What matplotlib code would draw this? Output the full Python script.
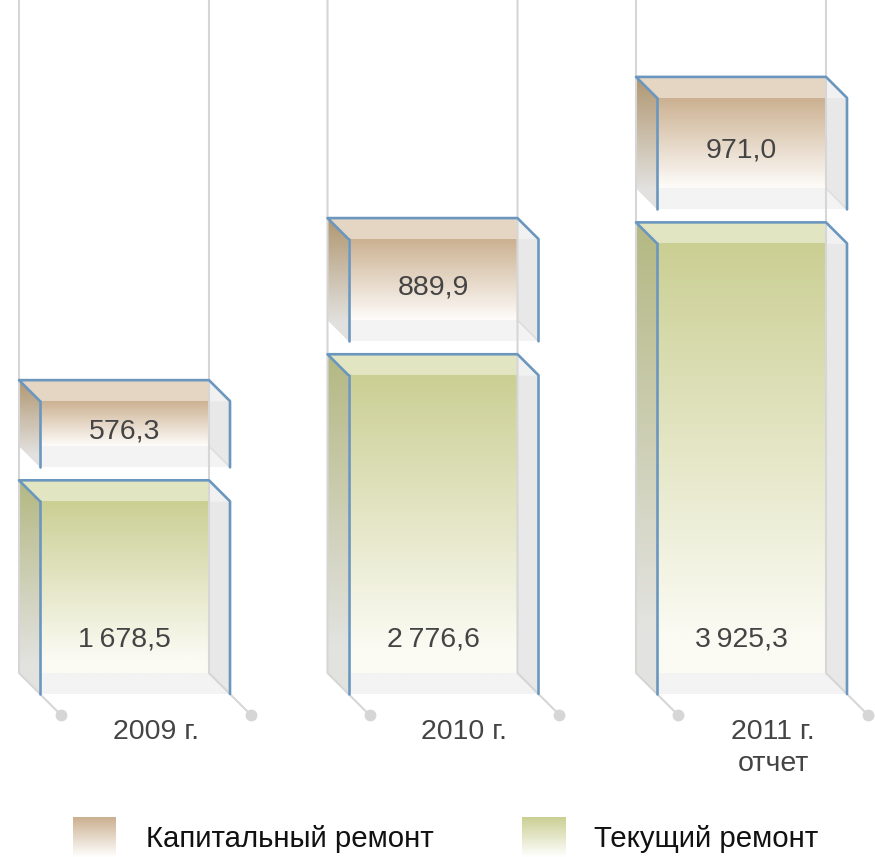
import numpy as np
import matplotlib
matplotlib.use('Agg')
import matplotlib.pyplot as plt
from matplotlib.patches import Polygon
from matplotlib.colors import to_rgba

# ---- data ----
years = ['2009 г.', '2010 г.', '2011 г.\nотчет']
capital = [576.3, 889.9, 971.0]          # Капитальный ремонт
current = [1678.5, 2776.6, 3925.3]       # Текущий ремонт
capital_labels = ['576,3', '889,9', '971,0']
current_labels = ['1\u2009678,5', '2\u2009776,6', '3\u2009925,3']
legend_labels = ['Капитальный ремонт', 'Текущий ремонт']

plt.rcParams['font.family'] = ['Liberation Sans', 'DejaVu Sans']

W, H = 875, 857
fig = plt.figure(figsize=(W / 100, H / 100), dpi=100)
ax = fig.add_axes([0, 0, 1, 1])
ax.set_axis_off()

PX_PER_UNIT = 0.1148
BASE_PX = 673
STEP_PX = 308.5
X0_PX = 114
ax.set_xlim(-X0_PX / STEP_PX, (W - X0_PX) / STEP_PX)
ax.set_ylim(-(H - BASE_PX) / PX_PER_UNIT, BASE_PX / PX_PER_UNIT)
ax.set_autoscale_on(False)
YTOP = BASE_PX / PX_PER_UNIT


def pxx(p):
    return p / STEP_PX


def pxy(p):
    return p / PX_PER_UNIT


w = pxx(190)
dx = pxx(21)
dy = pxy(21)
gap = pxy(34)

BLUE = '#6b97bf'
GREY_LINE = '#d6d6d6'

schemes = {
    'cap': dict(front_top='#cbb090', front_bot='#fefcfa', side_top='#b0966f', side_bot='#e2e1df',
                topface='#e4d6c3'),
    'cur': dict(front_top='#cbcf93', front_bot='#fbfbf4', side_top='#b4b882', side_bot='#e2e2df',
                topface='#e2e5c2'),
}


def grad_fill(a, poly, xl, xr, yb, yt, c_top, c_bot, z, reach=1.0, alpha=1.0):
    patch = Polygon(poly, closed=True, facecolor='none', edgecolor='none')
    a.add_patch(patch)
    n = 256
    t = np.clip(np.linspace(0, 1, n) / reach, 0, 1)[:, None]
    ct = np.array(to_rgba(c_top))
    cb = np.array(to_rgba(c_bot))
    arr = ct * (1 - t) + cb * t
    im = a.imshow(arr[:, None, :], extent=[xl, xr, yb, yt], origin='upper',
                  aspect='auto', zorder=z, interpolation='bilinear', alpha=alpha)
    im.set_clip_path(patch)


def poly(a, pts, color, z):
    a.add_patch(Polygon(pts, closed=True, facecolor=color, edgecolor='none', zorder=z))


def draw_segment(i, bottom, top, sc, label, label_y, reach):
    s = schemes[sc]
    x0, x1 = i - w / 2, i + w / 2
    # front face gradient
    fr = [(x0 + dx, top - dy), (x1, top - dy), (x1, bottom), (x0 + dx, bottom)]
    grad_fill(ax, fr, x0 + dx, x1, bottom, top - dy, s['front_top'], s['front_bot'], 2, reach=reach)
    # bottom face band
    poly(ax, [(x0 + dx, bottom), (x1 + dx, bottom), (x1 + dx, bottom - dy), (x0 + dx, bottom - dy)],
         '#f3f3f3', 2)
    # right face
    poly(ax, [(x1, top - dy), (x1 + dx, top - dy), (x1 + dx, bottom - dy), (x1, bottom)], '#e8e8e8', 2)
    poly(ax, [(x1, top), (x1 + dx, top - dy), (x1, top - dy)], '#f1f1f1', 2)
    ax.plot([x1, x1 + dx], [bottom, bottom - dy], color='#dcdcdc', lw=1.0, zorder=3)
    # left face gradient
    lf = [(x0, top), (x0 + dx, top - dy), (x0 + dx, bottom - dy), (x0, bottom)]
    grad_fill(ax, lf, x0, x0 + dx, bottom - dy, top, s['side_top'], s['side_bot'], 2, reach=0.85)
    # top face
    poly(ax, [(x0, top), (x1, top), (x1, top - dy), (x0 + dx, top - dy)], s['topface'], 2)
    # blue edges
    ekw = dict(color=BLUE, lw=1.9, zorder=6, solid_capstyle='round', solid_joinstyle='round')
    ax.plot([x0 + dx, x0, x1, x1 + dx, x1 + dx], [top - dy, top, top, top - dy, bottom - dy], **ekw)
    ax.plot([x0 + dx, x0 + dx], [top - dy, bottom - dy], **ekw)
    ax.text(i + dx / 2, label_y, label, ha='center', va='center', fontsize=20.5,
            color='#444444', zorder=8)


for i in range(len(years)):
    # hanging guide lines and dots
    for xe in (i - w / 2, i + w / 2):
        ax.plot([xe, xe, xe + 2 * dx], [YTOP, 0, -2 * dy], color=GREY_LINE, lw=1.5, zorder=4)
        ax.plot([xe + 2 * dx], [-2 * dy], 'o', ms=7.5, color='#d6d6d6', zorder=4)
    g_top = current[i]
    draw_segment(i, 0, g_top, 'cur', current_labels[i], pxy(33), 0.92)
    c_bot = g_top + gap
    c_top = c_bot + capital[i]
    draw_segment(i, c_bot, c_top, 'cap', capital_labels[i], (c_bot + c_top) / 2 - dy + pxy(3), 1.0)
    ax.text(i + 2 * dx, -pxy(46), years[i], ha='center', va='top', fontsize=20.5,
            color='#444444', linespacing=1.29, zorder=8)

# ---- legend (pixel coordinates overlay) ----
lax = fig.add_axes([0, 0, 1, 1])
lax.set_axis_off()
lax.set_xlim(0, W)
lax.set_ylim(H, 0)
lax.set_autoscale_on(False)
leg = [(73, 116, 146, schemes['cap']['front_top']), (522, 566, 594, schemes['cur']['front_top'])]
for (xa, xb, xt, col), lab in zip(leg, legend_labels):
    pts = [(xa, 817), (xb, 817), (xb, 857), (xa, 857)]
    patch = Polygon(pts, closed=True, facecolor='none', edgecolor='none')
    lax.add_patch(patch)
    t = np.linspace(0, 1, 128)[:, None]
    arr = np.array(to_rgba(col)) * (1 - t) + np.array(to_rgba('#ffffff')) * t
    im = lax.imshow(arr[:, None, :], extent=[xa, xb, 857, 817], origin='upper', aspect='auto')
    lax.text(xt, 839, lab, ha='left', va='center', fontsize=21.2, color='#111111')

fig.savefig('out.png', dpi=100)
